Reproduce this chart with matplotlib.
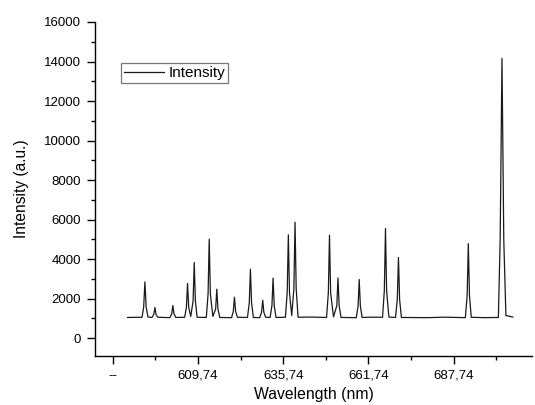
import matplotlib
matplotlib.use("Agg")
import matplotlib.pyplot as plt
from matplotlib.ticker import MultipleLocator, FixedLocator

plt.rcParams['font.family'] = ['Liberation Sans', 'DejaVu Sans']

# Spectrum points (wavelength in nm, intensity in a.u.)
wavelength = [
    588.3, 592.7, 593.2, 593.57, 593.95, 594.5,
    595.75, 596.27, 596.62, 596.97, 597.5,
    601.2, 601.75, 602.10, 602.45, 603.0,
    605.7, 606.23, 606.58, 606.93, 607.55,
    608.27, 608.62, 608.97, 609.5,
    612.3, 612.84, 613.19, 613.54, 614.3,
    615.15, 615.50, 615.85, 616.4,
    620.0, 620.54, 620.89, 621.24, 621.8,
    624.86, 625.41, 625.76, 626.11, 626.66,
    628.6, 629.16, 629.51, 629.86, 630.4,
    631.77, 632.32, 632.67, 633.02, 633.57,
    636.43, 636.98, 637.33, 637.68, 638.35,
    639.02, 639.37, 639.72, 640.3,
    644.0,
    648.98, 649.53, 649.88, 650.23, 651.1,
    652.12, 652.47, 652.82, 653.4,
    658.05, 658.6, 658.95, 659.3, 659.85,
    663.0,
    666.06, 666.61, 666.96, 667.31, 668.0,
    670.02, 670.57, 670.92, 671.27, 671.82,
    680.0, 685.0,
    691.33, 691.88, 692.23, 692.58, 693.13,
    697.0,
    701.4, 701.95, 702.50, 703.05, 703.7,
    705.8,
]
intensity = [
    1050, 1060, 1590, 2850, 1590, 1070,
    1050, 1200, 1550, 1200, 1060,
    1040, 1230, 1650, 1230, 1050,
    1060, 1566, 2770, 1566, 1100,
    1884, 3830, 1884, 1060,
    1050, 2238, 5010, 2238, 1100,
    1479, 2480, 1479, 1050,
    1040, 1358, 2075, 1358, 1060,
    1050, 1782, 3490, 1782, 1050,
    1040, 1311, 1920, 1311, 1060,
    1050, 1647, 3040, 1647, 1050,
    1060, 2304, 5230, 2304, 1150,
    2496, 5870, 2496, 1060,
    1070,
    1050, 2298, 5210, 2298, 1080,
    1650, 3050, 1650, 1050,
    1040, 1626, 2970, 1626, 1050,
    1065,
    1060, 2400, 5550, 2400, 1070,
    1050, 1960, 4085, 1960, 1050,
    1040, 1065,
    1040, 2170, 4785, 2170, 1060,
    1040,
    1050, 4983, 14160, 4983, 1150,
    1070,
]

xtick_values = [583.74, 609.74, 635.74, 661.74, 687.74]
xtick_labels = ["--", "609,74", "635,74", "661,74", "687,74"]
xminor_values = [596.74, 622.74, 648.74, 674.74, 700.74]

fig = plt.figure(figsize=(5.35, 4.05), dpi=100)
ax = fig.add_axes([0.1776, 0.121, 0.8174, 0.8247])

ax.plot(wavelength, intensity, color='#1a1a1a', lw=0.9, label='Intensity')

ax.set_xlim(578.35, 711.76)
ax.set_ylim(-900, 16000)

ax.xaxis.set_major_locator(FixedLocator(xtick_values))
ax.set_xticklabels(xtick_labels)
ax.xaxis.set_minor_locator(FixedLocator(xminor_values))
ax.yaxis.set_major_locator(MultipleLocator(2000))
ax.yaxis.set_minor_locator(MultipleLocator(1000))

for s in ['top', 'right']:
    ax.spines[s].set_visible(False)
for s in ['left', 'bottom']:
    ax.spines[s].set_linewidth(1.0)

ax.tick_params(axis='both', which='major', direction='out', length=6, width=1.0,
               labelsize=9.5, pad=4)
ax.tick_params(axis='both', which='minor', direction='out', length=3, width=1.0)

ax.set_xlabel('Wavelength (nm)', fontsize=11.3, labelpad=4)
ax.set_ylabel('Intensity (a.u.)', fontsize=11.2, labelpad=11)

leg = ax.legend(loc='upper left', bbox_to_anchor=(0.226, 0.8444),
                bbox_transform=fig.transFigure, fontsize=11,
                frameon=True, fancybox=False, handlelength=2.6,
                borderpad=0.2, handletextpad=0.3, borderaxespad=0)
leg.get_frame().set_edgecolor('#555555')
leg.get_frame().set_linewidth(0.9)

fig.savefig('out.png', dpi=100)
